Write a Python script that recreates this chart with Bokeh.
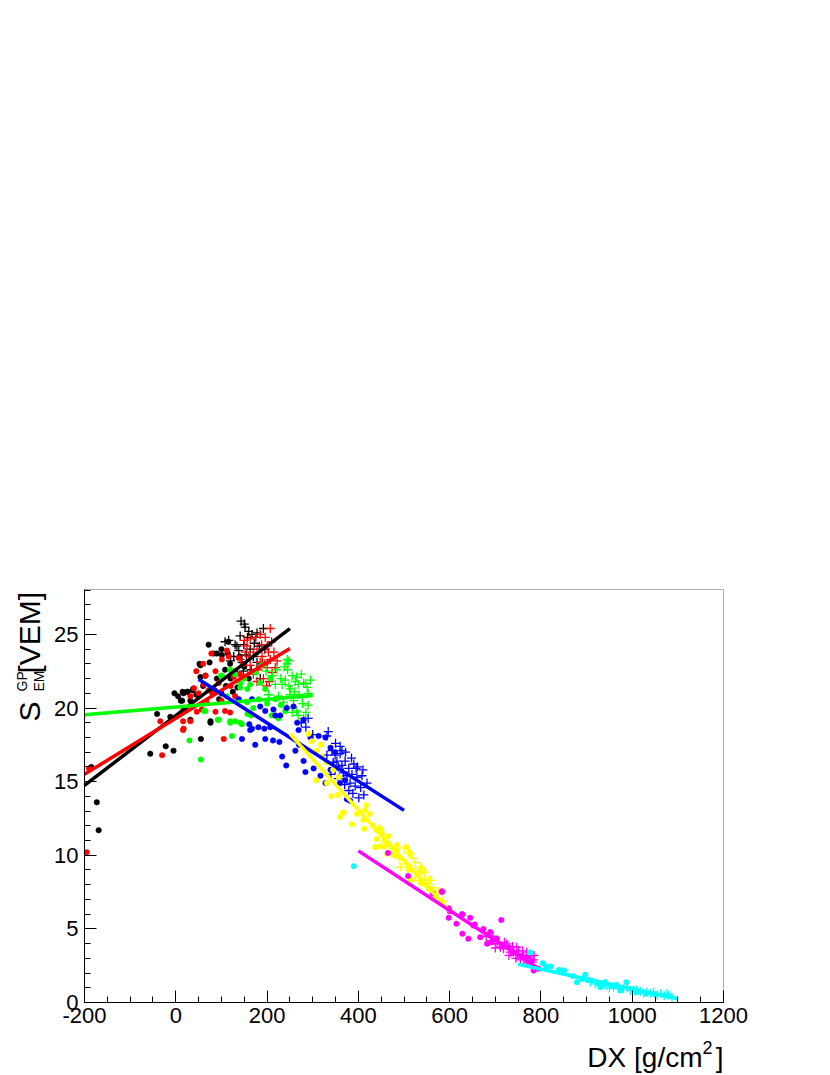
import math
from bokeh.plotting import figure
from bokeh.models import Label, FixedTicker, Range1d, BoxAnnotation
from bokeh.embed import file_html
from bokeh.resources import INLINE

# ---------------- data ----------------
x_ticks = [-200, 0, 200, 400, 600, 800, 1000, 1200]
x_tick_labels = ["-200", "0", "200", "400", "600", "800", "1000", "1200"]
y_ticks = [0, 5, 10, 15, 20, 25]
y_tick_labels = ["0", "5", "10", "15", "20", "25"]

black_dots = [(-185, 16.0), (-173, 13.6), (-169, 11.7), (-56, 16.9), (-22, 17.4), (-5, 17.1),
              (-41, 19.6), (-12, 19.4), (32, 19.2), (11, 20.5), (15, 21.1), (26, 21.1), (37, 21.2),
              (55, 17.9), (76, 19.0), (54, 22.1), (52, 23.0), (72, 24.3), (54, 22.9), (74, 23.1),
              (83, 23.7), (90, 23.7), (65, 22.2), (17, 21.0), (25, 21.1), (38, 21.3), (14, 20.5),
              (32, 20.5), (76, 19.1), (101, 23.6), (114, 23.7), (119, 23.0), (108, 22.6), (130, 22.5),
              (125, 21.1), (135, 21.4), (100, 21.0), (110, 21.5), (90, 22.0), (60, 21.5), (45, 20.9),
              (95, 20.6), (120, 22.0), (140, 23.5), (150, 22.8), (160, 22.0), (5, 20.8), (-3, 21.0),
              (20, 20.0), (85, 21.2), (115, 24.5), (100, 24.0)]
black_crosses = [(143, 25.9), (152, 25.5), (141, 24.9), (167, 25.0), (178, 25.1), (192, 25.4),
                 (108, 24.5), (116, 24.6), (134, 24.2), (149, 24.3), (163, 24.0), (170, 23.5),
                 (145, 23.1), (178, 23.1), (127, 23.5), (185, 22.0), (157, 24.8), (150, 25.7),
                 (160, 25.2), (172, 24.4), (183, 24.2), (190, 23.0), (155, 23.6), (138, 23.9),
                 (130, 24.3), (165, 22.6), (175, 24.8), (195, 24.0), (120, 23.2), (148, 22.5)]

red_dots = [(-195, 10.2), (-190, 15.9), (-34, 19.1), (-30, 16.8), (16, 19.1), (16, 18.5), (40, 21.35),
            (57, 19.9), (67, 20.4), (105, 17.9), (78, 23.7), (112, 23.9), (87, 22.5), (65, 22.2),
            (94, 21.7), (127, 22.1), (61, 21.6), (72, 21.2), (32, 20.8), (17, 19.9), (46, 19.75),
            (87, 19.75), (108, 19.8), (119, 19.7), (17, 18.6), (32, 19.1), (101, 23.3), (116, 23.5),
            (138, 23.4), (50, 21.0), (100, 20.5), (130, 20.8), (80, 21.0), (140, 22.3), (150, 23.0),
            (60, 23.0), (45, 22.5), (120, 21.5)]
red_crosses = [(207, 25.4), (196, 24.8), (163, 24.7), (156, 24.2), (178, 24.0), (189, 23.5),
               (203, 23.8), (152, 23.8), (185, 23.1), (163, 22.9), (200, 22.75), (141, 23.3),
               (170, 22.3), (207, 23.3), (211, 22.4), (218, 22.75), (192, 22.0), (210, 24.5),
               (200, 24.2), (175, 24.8), (185, 25.0), (195, 23.0), (170, 23.8), (180, 22.6),
               (215, 23.8), (205, 21.8), (160, 23.5), (188, 24.3), (222, 23.2), (150, 24.6),
               (199, 21.5), (178, 21.8)]

green_dots = [(30, 17.8), (55, 16.5), (92, 19.2), (119, 19.1), (123, 18.1), (130, 19.1), (145, 18.9),
              (157, 19.6), (99, 22.2), (157, 21.3), (141, 21.7), (62, 19.8), (101, 22.2), (119, 22.6),
              (130, 22.3), (141, 21.4), (163, 21.6), (189, 22.9), (185, 21.7), (196, 21.3), (207, 22.0),
              (218, 20.6), (181, 20.6), (156, 20.4), (94, 19.2), (119, 19.0), (141, 19.0), (65, 19.8),
              (61, 20.3), (112, 20.8), (170, 20.0), (200, 20.3), (210, 19.5), (230, 20.2), (175, 22.4),
              (150, 22.0), (240, 19.8), (225, 19.3), (165, 19.5), (135, 20.5)]
green_crosses = [(244, 23.0), (244, 23.3), (245, 22.6), (222, 22.6), (265, 22.1), (268, 21.6),
                 (251, 21.3), (280, 21.7), (288, 21.4), (225, 20.8), (236, 20.4), (258, 20.5),
                 (277, 20.7), (265, 19.8), (285, 19.7), (244, 20.0), (233, 21.6), (203, 20.9),
                 (218, 21.6), (247, 23.2), (284, 21.65), (255, 22.2), (270, 20.9), (290, 20.2),
                 (260, 21.1), (240, 21.9), (275, 22.3), (230, 22.0), (290, 21.0), (255, 19.7),
                 (280, 19.3), (212, 22.2), (198, 22.5), (250, 20.9), (268, 19.5), (262, 21.8),
                 (278, 20.3), (295, 21.9), (248, 21.5), (238, 22.8)]

blue_dots = [(174, 17.5), (233, 16.7), (242, 16.1), (213, 17.8), (227, 17.7), (194, 18.6), (218, 19.5),
             (258, 20.1), (280, 19.2), (262, 17.1), (280, 16.4), (284, 15.65), (302, 15.9), (317, 15.4),
             (328, 14.9), (295, 18.0), (313, 18.1), (328, 18.0), (339, 17.3), (349, 17.0), (375, 13.8),
             (382, 13.7), (339, 15.8), (360, 14.9), (371, 15.1), (269, 18.5), (167, 18.6), (138, 20.6),
             (167, 20.6), (185, 20.1), (196, 19.8), (214, 19.9), (163, 18.5), (181, 18.7), (145, 17.9),
             (196, 17.9), (207, 18.7), (229, 19.5), (243, 20.0), (266, 19.0), (161, 18.9), (270, 17.5)]
blue_crosses = [(334, 18.4), (342, 17.1), (349, 16.8), (360, 16.9), (353, 16.4), (371, 16.4),
                (364, 16.1), (379, 15.9), (349, 15.8), (375, 15.4), (386, 15.5), (397, 15.3),
                (408, 15.4), (419, 14.9), (393, 14.7), (412, 14.1), (379, 14.4), (401, 13.9),
                (331, 16.8), (364, 17.1), (331, 18.1), (356, 15.2), (367, 15.6), (390, 16.2),
                (345, 16.3), (382, 14.9), (395, 15.9), (370, 14.8), (405, 14.6), (360, 17.4),
                (340, 15.5), (285, 18.7), (300, 18.2), (275, 19.0), (290, 19.3), (372, 17.0),
                (385, 16.6), (398, 16.0), (357, 16.0), (388, 14.2), (410, 15.8), (350, 17.6)]

yellow_dots = [(291, 18.25), (298, 17.75), (318, 17.5), (309, 17.1), (308, 15.1), (331, 14.9),
               (357, 15.3), (355, 14.1), (368, 12.9), (360, 12.6), (386, 12.1), (397, 12.8),
               (415, 13.05), (411, 12.4), (440, 11.7), (451, 11.5), (459, 11.0), (440, 11.1),
               (437, 10.55), (463, 10.1), (485, 10.3), (488, 9.9), (506, 10.55), (366, 12.9),
               (413, 11.8), (425, 12.8), (417, 13.4), (448, 11.8), (466, 11.3), (448, 10.6),
               (457, 10.6), (485, 10.7), (477, 10.0), (510, 9.0), (514, 8.3), (539, 8.1),
               (558, 7.7), (565, 7.15), (583, 6.8), (330, 16.3), (345, 15.8), (320, 16.7), (341, 14.0)]
yellow_crosses = [(499, 9.65), (510, 10.2), (525, 9.5), (517, 9.1), (535, 8.75), (546, 8.85),
                  (553, 8.3), (532, 8.3), (492, 9.2), (565, 7.6), (514, 10.1), (536, 9.2),
                  (558, 8.3), (565, 7.8), (506, 9.4), (525, 8.5), (470, 10.6), (480, 10.2),
                  (455, 11.4), (445, 11.8), (490, 9.8), (520, 9.8), (545, 8.4), (575, 7.5),
                  (585, 6.9), (560, 7.2), (540, 9.0), (500, 10.5), (530, 8.9), (550, 7.9),
                  (460, 10.9), (435, 11.9)]

magenta_dots = [(465, 10.15), (509, 8.6), (563, 7.4), (583, 7.56), (598, 6.4), (627, 6.0), (645, 5.75),
                (583, 7.5), (598, 5.75), (615, 5.35), (628, 5.98), (628, 4.67), (652, 5.23), (713, 5.6),
                (641, 4.33), (667, 4.44), (674, 5.0), (689, 4.78), (682, 3.99), (704, 4.33), (715, 3.87),
                (729, 3.76), (740, 3.42), (758, 3.19), (769, 3.08), (784, 2.17), (693, 4.1), (795, 2.3),
                (600, 6.2), (655, 5.3)]
magenta_crosses = [(704, 3.99), (718, 3.65), (733, 3.42), (748, 3.3), (762, 3.08), (777, 2.85),
                   (751, 3.53), (769, 3.42), (784, 2.9), (711, 3.76), (740, 3.42), (781, 2.74),
                   (725, 3.98), (747, 3.76), (690, 4.2), (700, 3.7), (730, 3.2), (755, 2.9),
                   (770, 2.7), (760, 3.5), (775, 3.1), (720, 4.1), (745, 3.0), (785, 3.2),
                   (680, 4.5), (695, 4.5), (738, 3.8)]

cyan_dots = [(390, 9.26), (777, 3.4), (804, 2.67), (811, 2.45), (840, 2.22), (851, 2.17), (821, 2.45),
             (839, 2.17), (879, 1.38), (897, 1.88), (901, 1.54), (930, 1.04), (941, 1.38), (987, 1.38),
             (974, 0.82), (1010, 0.7), (910, 1.5), (925, 1.3), (955, 1.1), (965, 1.2), (1000, 0.9),
             (1030, 0.6), (1050, 0.55), (870, 1.8), (890, 1.6)]
cyan_crosses = [(908, 1.38), (919, 1.27), (945, 1.15), (959, 1.04), (981, 0.93), (996, 0.82),
                (1018, 0.77), (1032, 0.7), (1047, 0.7), (1062, 0.59), (1076, 0.59), (1087, 0.36),
                (930, 1.2), (950, 1.0), (970, 0.95), (990, 1.0), (1005, 0.8), (1025, 0.65),
                (1040, 0.62), (1055, 0.5), (1070, 0.45), (1080, 0.5), (940, 1.25), (1010, 0.85)]

fit_colors = ["#000000", "#ff0000", "#00ff00", "#0000ff", "#ffff00", "#ff00ff", "#00ffff"]
fit_x0 = [-200, -200, -200, 50, 250, 400, 750]
fit_y0 = [14.75, 15.5, 19.55, 21.95, 18.25, 10.3, 2.6]
fit_x1 = [250, 250, 300, 500, 600, 800, 1100]
fit_y1 = [25.4, 24.05, 20.85, 13.05, 6.2, 2.2, 0.25]

groups = [
    ("#000000", black_dots, black_crosses),
    ("#ff0000", red_dots, red_crosses),
    ("#00ff00", green_dots, green_crosses),
    ("#0000ff", blue_dots, blue_crosses),
    ("#ffff00", yellow_dots, yellow_crosses),
    ("#ff00ff", magenta_dots, magenta_crosses),
    ("#00ffff", cyan_dots, cyan_crosses),
]

X_MIN, X_MAX = -200, 1200
Y_MIN, Y_MAX = 0, 28.05

# ---------------- layout (pixels) ----------------
W, H = 828, 1073
PX_L, PX_R, PX_T, PX_B = 84, 723, 589, 1002
sx = (X_MAX - X_MIN) / (PX_R - PX_L)
sy = (Y_MAX - Y_MIN) / (PX_B - PX_T)
xr = Range1d(X_MIN - PX_L * sx, X_MAX + (W - PX_R) * sx)
yr = Range1d(Y_MIN - (H - PX_B) * sy, Y_MAX + PX_T * sy)

FONT = "Liberation Sans"

p = figure(width=W, height=H, output_backend="svg", toolbar_location=None,
           x_range=xr, y_range=yr, min_border=0)
p.background_fill_color = "white"
p.border_fill_color = "white"
p.outline_line_color = None
p.xgrid.visible = False
p.ygrid.visible = False

p.xaxis.ticker = FixedTicker(ticks=x_ticks, minor_ticks=list(range(X_MIN, X_MAX + 1, 50)))
p.yaxis.ticker = FixedTicker(ticks=y_ticks, minor_ticks=list(range(0, 29, 1)))
p.xaxis.major_label_overrides = {t: l for t, l in zip(x_ticks, x_tick_labels)}
p.yaxis.major_label_overrides = {t: l for t, l in zip(y_ticks, y_tick_labels)}
p.xaxis.fixed_location = Y_MIN
p.yaxis.fixed_location = X_MIN
p.xaxis.bounds = (X_MIN, X_MAX)
p.yaxis.bounds = (Y_MIN, Y_MAX)
for ax in (p.xaxis, p.yaxis):
    ax.major_tick_in = 12
    ax.major_tick_out = 0
    ax.minor_tick_in = 6
    ax.minor_tick_out = 0
    ax.axis_line_color = "black"
    ax.major_tick_line_color = "black"
    ax.minor_tick_line_color = "black"
    ax.major_label_text_font = FONT
    ax.major_label_text_font_size = "22px"
    ax.major_label_text_color = "black"
p.xaxis.major_label_standoff = 5
p.yaxis.major_label_standoff = 6

# frame box (ROOT style)
p.add_layout(BoxAnnotation(left=X_MIN, right=X_MAX, bottom=Y_MIN, top=Y_MAX,
                           fill_alpha=0, line_color="black", line_width=1))

for color, dots, crosses in groups:
    p.scatter([d[0] for d in dots], [d[1] for d in dots], marker="circle", size=5.5,
              fill_color=color, line_color=color, line_width=0.5)
    p.scatter([c[0] for c in crosses], [c[1] for c in crosses], marker="cross", size=9,
              line_color=color, line_width=1.3)

p.segment(x0=fit_x0, y0=fit_y0, x1=fit_x1, y1=fit_y1, line_color=fit_colors, line_width=3.5)

# ---------------- axis titles ----------------
def lab(text, px, py, size, align="left", angle=0.0):
    p.add_layout(Label(x=px, y=H - py, x_units="screen", y_units="screen", text=text,
                       text_font=FONT, text_font_size=size, text_color="black",
                       text_align=align, text_baseline="alphabetic", angle=angle))

# x title: DX [g/cm^2]
lab("]", 723, 1057, "28px", align="right")
lab("2", 712, 1047, "18px", align="right")
lab("DX [g/cm", 702, 1057, "28px", align="right")

# y title: S^{GP}_{EM} [VEM]
ang = math.pi / 2
lab("S", 29, 721, "30px", angle=ang)
lab("GP", 21, 691, "14px", angle=ang)
lab("EM", 38, 691, "14px", angle=ang)
lab("[VEM]", 29, 673, "30px", angle=ang)

open("out.html", "w").write(file_html(p, INLINE))
